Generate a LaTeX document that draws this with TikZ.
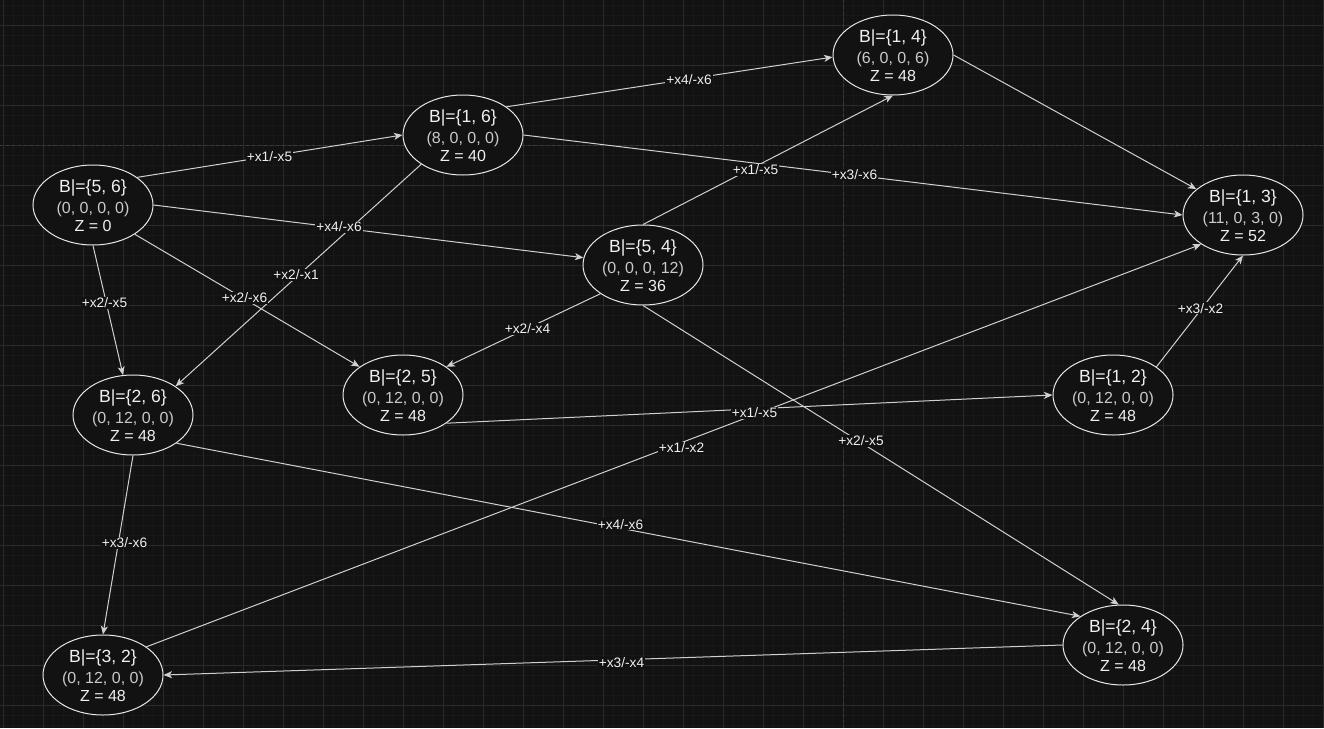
\documentclass[tikz,border=0pt]{standalone}
\usepackage{fontspec}
\setmainfont{Liberation Sans}
\usetikzlibrary{arrows.meta,shapes.geometric}
\definecolor{bg}{HTML}{121212}
\definecolor{gridminor}{HTML}{181818}
\definecolor{gridmajor}{HTML}{2A2A2A}
\definecolor{pageline}{HTML}{3A3A3A}
\definecolor{edgecol}{HTML}{D0D0D0}
\definecolor{nodeborder}{HTML}{E8E8E8}
\definecolor{txtmain}{HTML}{F0F0F0}
\definecolor{txtdim}{HTML}{CACACA}
\tikzset{
  stnode/.style={ellipse, draw=nodeborder, fill=bg, line width=1pt,
    minimum width=120pt, minimum height=80pt, inner sep=0pt},
  lineone/.style={anchor=base, inner sep=0pt, text=txtmain, font=\fontsize{17.6}{20}\selectfont},
  linetwo/.style={anchor=base, inner sep=0pt, text=txtdim, font=\fontsize{16}{19}\selectfont},
  linethree/.style={anchor=base, inner sep=0pt, text=txtmain, font=\fontsize{16}{19}\selectfont},
  conn/.style={draw=edgecol, line width=1pt, -{Stealth[length=8.5pt,width=7pt,inset=2.2pt]}},
  lbl/.style={fill=bg, inner sep=1pt, text=txtmain, font=\fontsize{13.7}{16}\selectfont},
}
\newcommand{\statenode}[6]{%
  \node[stnode] (#1) at (#2,#3) {};
  \node[lineone] (#1a) at (#2,#3-12.5) {#4};
  \node[linetwo] (#1b) at (#2,#3+8) {#5};
  \node[linethree] (#1c) at (#2,#3+26.5) {#6};
}
\begin{document}
\begin{tikzpicture}[x=1pt,y=-1pt]
\fill[bg] (0,0) rectangle (1324,728);
\useasboundingbox (0,0) rectangle (1324,728);
% grid
\foreach \gx in {3,13,...,1323} \draw[gridminor, line width=0.8pt] (\gx,0) -- (\gx,728);
\foreach \gy in {5,15,...,725} \draw[gridminor, line width=0.8pt] (0,\gy) -- (1324,\gy);
\foreach \gx in {3,43,...,1323} \draw[gridmajor, line width=1pt] (\gx,0) -- (\gx,728);
\foreach \gy in {25,65,...,705} \draw[gridmajor, line width=1pt] (0,\gy) -- (1324,\gy);
\draw[pageline, line width=1pt, dash pattern=on 3pt off 3pt] (843,0) -- (843,728);
\draw[pageline, line width=1pt, dash pattern=on 3pt off 3pt] (0,145) -- (1324,145);
% nodes
\statenode{n56}{93}{205}{B|=\{5, 6\}}{(0, 0, 0, 0)}{Z = 0}
\statenode{n16}{463}{135}{B|=\{1, 6\}}{(8, 0, 0, 0)}{Z = 40}
\statenode{n14}{893}{55}{B|=\{1, 4\}}{(6, 0, 0, 6)}{Z = 48}
\statenode{n13}{1243}{215}{B|=\{1, 3\}}{(11, 0, 3, 0)}{Z = 52}
\statenode{n54}{643}{265}{B|=\{5, 4\}}{(0, 0, 0, 12)}{Z = 36}
\statenode{n26}{133}{415}{B|=\{2, 6\}}{(0, 12, 0, 0)}{Z = 48}
\statenode{n25}{403}{395}{B|=\{2, 5\}}{(0, 12, 0, 0)}{Z = 48}
\statenode{n12}{1113}{395}{B|=\{1, 2\}}{(0, 12, 0, 0)}{Z = 48}
\statenode{n24}{1123}{645}{B|=\{2, 4\}}{(0, 12, 0, 0)}{Z = 48}
\statenode{n32}{103}{675}{B|=\{3, 2\}}{(0, 12, 0, 0)}{Z = 48}
% connectors
\draw[conn] (n56.32) -- (n16.west);
\draw[conn] (n56.east) -- (n54.173);
\draw[conn] (n56.south) -- (n26.104);
\draw[conn] (n56.-35) -- (n25.147);
\draw[conn] (n16.215) -- (n26.34);
\draw[conn] (n16.33) -- (n14.182);
\draw[conn] (n16.east) -- (n13.west);
\draw[conn] (n54.north) -- (n14.south);
\draw[conn] (n14.east) -- (n13.151);
\draw[conn] (n54.214) -- (n25.33);
\draw[conn] (n54.south) -- (n24.96);
\draw[conn] (n25.-33) -- (n12.west);
\draw[conn] (n12.33) -- (n13.south);
\draw[conn] (n32.33) -- (n13.215);
\draw[conn] (n26.south) -- (n32.north);
\draw[conn] (n26.-33) -- (n24.146);
\draw[conn] (n24.west) -- (n32.east);
% labels
\node[lbl] (tA) at (269.5,156.5) {+x1/-x5};
\node[lbl] (tB) at (339,226.7) {+x4/-x6};
\node[lbl] (tC) at (104.5,303) {+x2/-x5};
\node[lbl] (tD) at (244.5,297.7) {+x2/-x6};
\node[lbl] (tE) at (296,275) {+x2/-x1};
\node[lbl] (tF) at (689,80) {+x4/-x6};
\node[lbl] (tG) at (854.5,175) {+x3/-x6};
\node[lbl] (tH) at (755.5,170) {+x1/-x5};
\node[lbl] (tJ) at (527.5,329) {+x2/-x4};
\node[lbl] (tK) at (861,441) {+x2/-x5};
\node[lbl] (tL) at (754.5,413) {+x1/-x5};
\node[lbl] (tM) at (1200.5,308.3) {+x3/-x2};
\node[lbl] (tN) at (681.5,447.7) {+x1/-x2};
\node[lbl] (tO) at (124.5,543) {+x3/-x6};
\node[lbl] (tP) at (620.5,524.3) {+x4/-x6};
\node[lbl] (tQ) at (621.5,662.7) {+x3/-x4};
\end{tikzpicture}
\end{document}
